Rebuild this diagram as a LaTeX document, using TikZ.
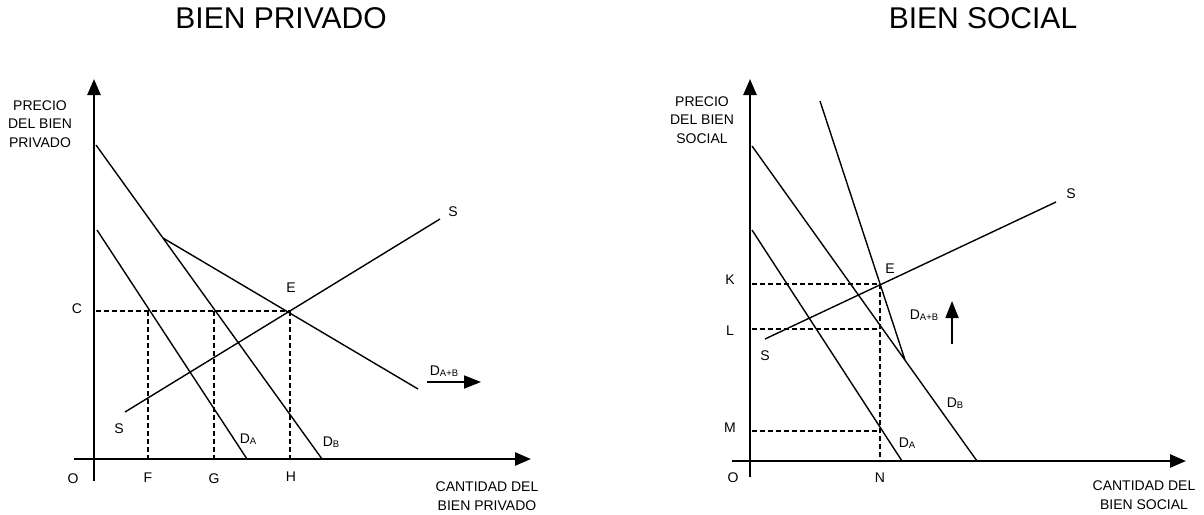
\documentclass[tikz,border=0pt]{standalone}
\usepackage{fontspec}
\setmainfont{Liberation Sans}
\usetikzlibrary{arrows.meta}

\tikzset{
  axis/.style={line width=2.6pt,-{Triangle[length=16pt,width=13pt]}},
  curve/.style={line width=1.4pt},
  guide/.style={line width=1.1pt,dash pattern=on 5pt off 3pt},
  lbl/.style={font=\fontsize{14}{18.5}\selectfont,inner sep=0pt,align=center},
  ttl/.style={font=\fontsize{30}{32}\selectfont,inner sep=0pt},
  shiftarrow/.style={line width=1.8pt,-{Triangle[length=17pt,width=13pt]}}
}
\newcommand{\dsub}[1]{D\raisebox{-0.6pt}{\fontsize{9.5}{9.5}\selectfont #1}}

\begin{document}
\begin{tikzpicture}[x=1pt,y=-1pt]
\useasboundingbox (0,0) rectangle (1204,514);

% bien privado
\coordinate (pyb) at (94,481);
\coordinate (pyt) at (94,79);
\coordinate (pxl) at (74,459);
\coordinate (pxr) at (531,459);
\coordinate (pda0) at (97,230);
\coordinate (pda1) at (247,459);
\coordinate (pdb0) at (96,145);
\coordinate (pdb1) at (322,459);
\coordinate (pdab0) at (163,238);
\coordinate (pdab1) at (418,389);
\coordinate (ps0) at (125,412);
\coordinate (ps1) at (440,219);
\coordinate (pE) at (290,311);
\coordinate (pC) at (96,311);
\coordinate (pF1) at (148,311);
\coordinate (pF0) at (148,459);
\coordinate (pG1) at (214,311);
\coordinate (pG0) at (214,459);
\coordinate (pH0) at (290,459);
\coordinate (pr0) at (427,382);
\coordinate (pr1) at (481,382);

\draw[guide] (pC) -- (pE) (pF1) -- (pF0) (pG1) -- (pG0) (pE) -- (pH0);
\draw[curve] (pda0) -- (pda1) (pdb0) -- (pdb1) (pdab0) -- (pdab1) (ps0) -- (ps1);
\draw[axis] (pyb) -- (pyt);
\draw[axis] (pxl) -- (pxr);
\draw[shiftarrow] (pr0) -- (pr1);

\node[ttl] (tpriv) at (281,18) {BIEN PRIVADO};
\node[lbl] (ypriv) at (40,124) {PRECIO\\DEL BIEN\\PRIVADO};
\node[lbl] (xpriv) at (487,496) {CANTIDAD DEL\\BIEN PRIVADO};
\node[lbl] (po) at (73,479) {O};
\node[lbl] (pc) at (77,309) {C};
\node[lbl] (pf) at (148,478) {F};
\node[lbl] (pg) at (214,479) {G};
\node[lbl] (ph) at (291,477) {H};
\node[lbl] (pe) at (291,288) {E};
\node[lbl] (pst) at (453,212) {S};
\node[lbl] (psb) at (119,429) {S};
\node[lbl] (pla) at (248,439) {\dsub{A}};
\node[lbl] (plb) at (331,442) {\dsub{B}};
\node[lbl] (plab) at (444,371) {\dsub{A+B}};

% bien social
\coordinate (syb) at (750,477);
\coordinate (syt) at (750,79);
\coordinate (sxl) at (732,461);
\coordinate (sxr) at (1186,461);
\coordinate (sda0) at (752,230);
\coordinate (sda1) at (902,461);
\coordinate (sdb0) at (752,146);
\coordinate (sdb1) at (977,461);
\coordinate (sdab0) at (820,101);
\coordinate (sdab1) at (905,360);
\coordinate (ss0) at (765,339);
\coordinate (ss1) at (1056,202);
\coordinate (sE) at (880,284);
\coordinate (sK) at (752,284);
\coordinate (sL) at (752,329);
\coordinate (sL1) at (880,329);
\coordinate (sM) at (752,431);
\coordinate (sM1) at (880,431);
\coordinate (sN) at (880,461);
\coordinate (sr0) at (952,344);
\coordinate (sr1) at (952,301);

\draw[guide] (sK) -- (sE) (sL) -- (sL1) (sM) -- (sM1) (sE) -- (sN);
\draw[curve] (sda0) -- (sda1) (sdb0) -- (sdb1) (sdab0) -- (sdab1) (ss0) -- (ss1);
\draw[axis] (syb) -- (syt);
\draw[axis] (sxl) -- (sxr);
\draw[shiftarrow] (sr0) -- (sr1);

\node[ttl] (tsoc) at (983,18) {BIEN SOCIAL};
\node[lbl] (ysoc) at (702,120) {PRECIO\\DEL BIEN\\SOCIAL};
\node[lbl] (xsoc) at (1144,495) {CANTIDAD DEL\\BIEN SOCIAL};
\node[lbl] (so) at (733,478) {O};
\node[lbl] (sk) at (730,280) {K};
\node[lbl] (sl) at (730,331) {L};
\node[lbl] (sm) at (730,428) {M};
\node[lbl] (sn) at (880,478) {N};
\node[lbl] (se) at (890,269) {E};
\node[lbl] (sst) at (1071,194) {S};
\node[lbl] (ssb) at (765,356) {S};
\node[lbl] (sla) at (907,443) {\dsub{A}};
\node[lbl] (slb) at (955,403) {\dsub{B}};
\node[lbl] (slab) at (924,315) {\dsub{A+B}};

\end{tikzpicture}
\end{document}
